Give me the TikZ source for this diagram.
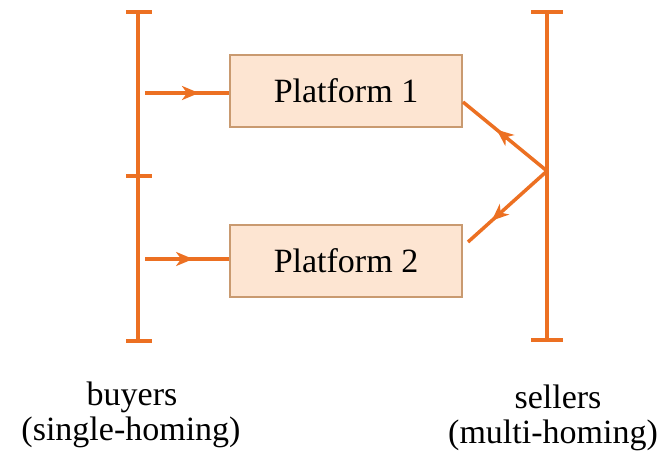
\documentclass[tikz,border=0pt]{standalone}
\usepackage{fontspec}
\setmainfont{Liberation Serif}
\usetikzlibrary{decorations.markings,arrows.meta}
\definecolor{orng}{HTML}{EC7022}
\definecolor{boxfill}{HTML}{FDE5D2}
\definecolor{boxline}{HTML}{C99A70}
\tikzset{
  bar/.style={draw=orng,line width=3.5pt},
  platbox/.style={draw=boxline,fill=boxfill,line width=1.2pt,minimum width=232pt,minimum height=72pt,inner sep=0pt,font=\fontsize{34}{40}\selectfont},
  lbl/.style={font=\fontsize{34}{38}\selectfont,align=center,inner sep=0pt},
  midarrow/.style={postaction={decorate},decoration={markings,mark=at position #1 with {\arrow{Stealth[length=17pt,width=14pt,inset=5pt]}}}}
}
\begin{document}
\begin{tikzpicture}[x=1pt,y=-1pt]
\useasboundingbox (0,0) rectangle (664,456);
% left bar
\coordinate (lt) at (138,12);
\coordinate (lm) at (138,176);
\coordinate (lb) at (138,341);
\draw[bar] (lt) -- (lb);
\draw[bar] ([xshift=-12pt]lt) -- ([xshift=14pt]lt);
\draw[bar] ([xshift=-12pt]lm) -- ([xshift=14pt]lm);
\draw[bar] ([xshift=-12pt]lb) -- ([xshift=14pt]lb);
% right bar
\coordinate (rt) at (547,12);
\coordinate (rj) at (547,171);
\coordinate (rb) at (547,340);
\draw[bar] (rt) -- (rb);
\draw[bar] ([xshift=-16pt]rt) -- ([xshift=16pt]rt);
\draw[bar] ([xshift=-16pt]rb) -- ([xshift=16pt]rb);
% platforms
\node[platbox] (p1) at (346,91) {Platform 1};
\node[platbox] (p2) at (346,261) {Platform 2};
% buyer arrows
\coordinate (a1) at (145,93);
\coordinate (a2) at (145,259);
\draw[bar,midarrow=0.64] (a1) -- (p1.west |- a1);
\draw[bar,midarrow=0.57] (a2) -- (p2.west |- a2);
% seller arrows
\coordinate (s1) at (463,102);
\coordinate (s2) at (468,242);
\draw[bar,midarrow=0.6] (rj) -- (s1);
\draw[bar,midarrow=0.7] (rj) -- (s2);
% labels
\node[lbl,anchor=base] (buy) at (132,405) {buyers};
\node[lbl,anchor=base] (buyh) at (131,440) {(single-homing)};
\node[lbl,anchor=base] (sel) at (558,408) {sellers};
\node[lbl,anchor=base] (selh) at (553,443) {(multi-homing)};
\end{tikzpicture}
\end{document}
